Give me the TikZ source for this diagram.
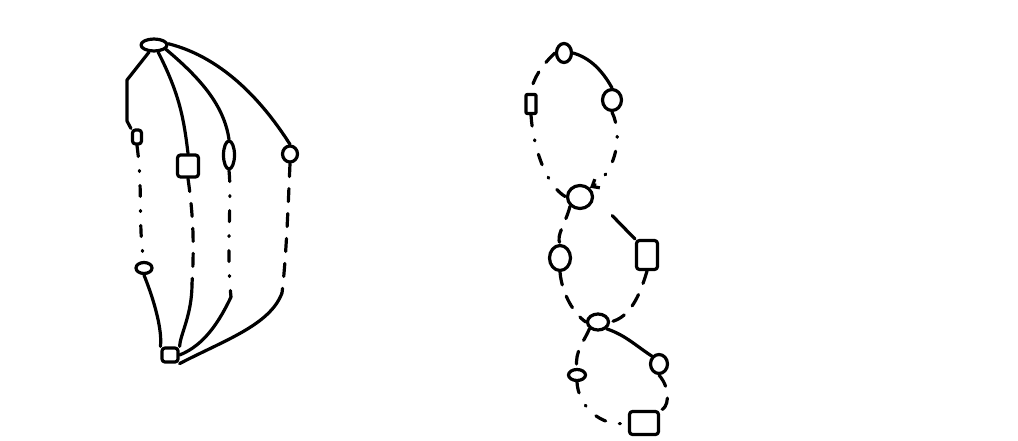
\documentclass[tikz,border=0pt]{standalone}
\usetikzlibrary{shapes.geometric,arrows.meta}
\begin{document}
\begin{tikzpicture}[x=1pt,y=-1pt,
  every path/.style={line width=3.2pt,line cap=round,line join=round},
  nd/.style={draw,inner sep=0pt,line width=3.2pt},
  el/.style={nd,ellipse},
  bx/.style={nd,rectangle,rounded corners=3pt},
  dsh/.style={dash pattern=on 13pt off 12pt},
  dsh2/.style={dash pattern=on 11pt off 14pt on 1pt off 14pt}]
\useasboundingbox (0,0) rectangle (1018,441);
% ---------- left graph ----------
\node[el,minimum width=26pt,minimum height=12pt] (T) at (154,45) {};
\node[bx,minimum width=9pt,minimum height=14pt] (L1) at (137,137) {};
\node[bx,minimum width=21pt,minimum height=22pt] (L2) at (188,166) {};
\node[el,minimum width=11pt,minimum height=28pt] (L3) at (229,155) {};
\node[el,minimum width=15pt,minimum height=16pt] (L4) at (290,154) {};
\node[el,minimum width=16pt,minimum height=11pt] (M1) at (144,268) {};
\node[bx,minimum width=16pt,minimum height=14pt] (B) at (170,355) {};
\coordinate (c2) at (192,284);
\coordinate (c3) at (231,297);
\coordinate (c4) at (282,293);
\draw (T.235) -- (127,80) -- (127,121) -- (L1.north west);
\draw (T.300) .. controls (180,95) and (184,120) .. (L2.north);
\draw (T.340) .. controls (200,78) and (224,105) .. (L3.north);
\draw (T.5) .. controls (225,58) and (265,105) .. (L4.north);
\draw[dsh2] (L1.south) .. controls (143,190) and (138,230) .. (M1.north);
\draw (M1.south) .. controls (158,310) and (162,335) .. (B.north west);
\draw[dsh] (L2.south) .. controls (194,220) and (194,250) .. (c2);
\draw (c2) .. controls (192,315) and (180,335) .. (B.north east);
\draw[dsh2] (L3.south) .. controls (232,200) and (226,250) .. (c3);
\draw (c3) .. controls (220,320) and (205,345) .. (B.east);
\draw[dsh] (L4.south) .. controls (288,210) and (286,260) .. (c4);
\draw (c4) .. controls (270,325) and (225,340) .. (B.south east);
% ---------- right graph ----------
\node[el,minimum width=15pt,minimum height=19pt] (A) at (564,53) {};
\node[el,minimum width=19pt,minimum height=21pt] (R1) at (612,100) {};
\node[bx,rounded corners=1pt,minimum width=10pt,minimum height=19pt] (Lf) at (531,104) {};
\node[el,minimum width=25pt,minimum height=23pt] (C) at (580,197) {};
\node[el,minimum width=21pt,minimum height=25pt] (D) at (560,258) {};
\node[bx,minimum width=21pt,minimum height=29pt] (E) at (647,255) {};
\node[el,minimum width=21pt,minimum height=16pt] (F) at (598,322) {};
\node[el,minimum width=17pt,minimum height=11pt] (G) at (577,375) {};
\node[el,minimum width=17pt,minimum height=19pt] (H) at (659,364) {};
\node[bx,minimum width=29pt,minimum height=23pt] (I) at (644,423) {};
\draw (A.east) .. controls (590,58) and (602,70) .. (R1.north);
\draw[dsh] (A.west) .. controls (542,65) and (532,80) .. (Lf.north);
\draw[dsh2] (Lf.south) .. controls (533,145) and (545,185) .. (C.west);
\draw[dsh2,-{Straight Barb[length=6pt,width=10pt]}] (R1.south) .. controls (625,140) and (612,175) .. (C.north east);
\draw[shorten <=26pt] (C.east) -- (E.north west);
\draw[dsh] (C.south west) .. controls (565,225) and (556,235) .. (D.north);
\draw[dsh] (D.south) .. controls (562,295) and (575,315) .. (F.west);
\draw[dsh] (E.south) .. controls (640,295) and (630,318) .. (F.east);
\draw[dsh] (F.south west) .. controls (585,340) and (574,352) .. (G.north);
\draw (F.south east) .. controls (625,335) and (635,345) .. (H.north west);
\draw[dsh2] (G.south) .. controls (578,405) and (600,428) .. (I.west);
\draw[dsh] (H.south) .. controls (672,390) and (668,410) .. (I.north east);
\end{tikzpicture}
\end{document}
